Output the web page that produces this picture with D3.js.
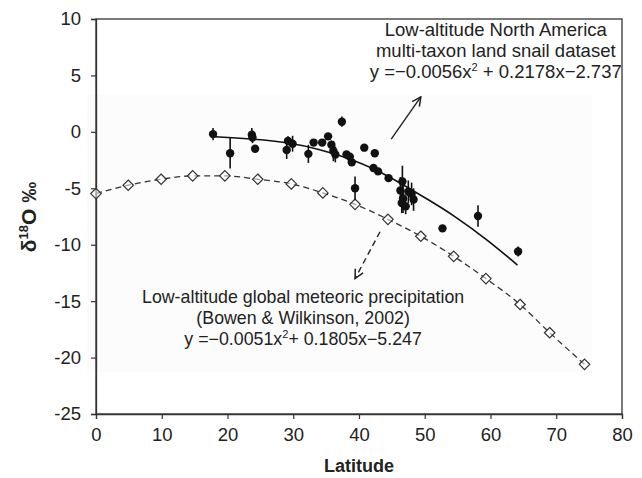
<!DOCTYPE html>
<html>
<head>
<meta charset="utf-8">
<script src="https://cdn.jsdelivr.net/npm/d3@7"></script>
<style>
  body { margin: 0; background: #fff; }
  text { font-family: "Liberation Sans", Arial, sans-serif; fill: #222; }
</style>
</head>
<body>
<div id="chart"></div>
<script>
// low-altitude global meteoric precipitation (open diamonds)
const precipLat = [0, 4.9, 9.9, 14.7, 19.6, 24.6, 29.7, 34.5, 39.4, 44.4, 49.4, 54.4, 59.3, 64.5, 69.0, 74.3];
const precipVal = [-5.47, -4.73, -4.2, -3.9, -3.9, -4.2, -4.61, -5.41, -6.42, -7.75, -9.25, -11.03, -13.0, -15.3, -17.8, -20.6];

// land snail dataset (filled circles + error bars)
const snailLat = [17.8, 20.4, 23.7, 23.8, 24.2, 29.0, 29.2, 29.9, 32.3, 33.1, 34.4, 35.3, 35.8, 36.1, 36.4, 37.4,
  38.1, 38.6, 38.9, 39.4, 40.8, 42.4, 42.2, 42.9, 44.5, 46.6, 46.3, 46.7, 47.5, 48.0, 48.3, 46.5, 47.1, 52.7, 58.1, 64.2];
const snailVal = [-0.2, -1.9, -0.25, -0.5, -1.5, -1.6, -0.8, -1.05, -1.95, -0.95, -0.95, -0.4, -1.15, -1.7, -2.0, 0.9,
  -2.0, -2.2, -2.7, -5.0, -1.4, -1.9, -3.2, -3.5, -4.1, -4.4, -5.2, -5.9, -5.3, -5.5, -6.0, -6.3, -6.6, -8.55, -7.45, -10.6];
const snailErr = [0.55, 1.35, 0.6, 0.5, 0, 0.8, 0.4, 0.7, 0.8, 0, 0, 0, 0.4, 0.9, 0.7, 0.45,
  0, 0, 0, 1.05, 0, 0, 0.3, 0, 0, 1.4, 1.2, 1.3, 1.0, 1.0, 1.0, 0.9, 0.7, 0.3, 0.95, 0.45];

// solid fitted curve
const snailFitLat = [17.8, 23.4, 29.5, 34.0, 38.6, 42.4, 46.2, 50.5, 54.3, 59.4, 64.1];
const snailFitVal = [-0.42, -0.6, -0.95, -1.55, -2.35, -3.3, -4.5, -6.0, -7.35, -9.5, -11.8];

const xTicks = [0, 10, 20, 30, 40, 50, 60, 70, 80];
const yTicks = [10, 5, 0, -5, -10, -15, -20, -25];

const MARGIN = { TOP: 19, BOTTOM: 64, LEFT: 96, RIGHT: 20 };
const WIDTH = 642 - MARGIN.LEFT - MARGIN.RIGHT,
  HEIGHT = 478 - MARGIN.TOP - MARGIN.BOTTOM;

var svg = d3
  .select("#chart")
  .append("svg")
  .attr("width", 642)
  .attr("height", 478);

var defs = svg.append("defs");
defs
  .append("marker")
  .attr("id", "head")
  .attr("viewBox", "0 0 10 10")
  .attr("refX", 9)
  .attr("refY", 5)
  .attr("markerWidth", 11)
  .attr("markerHeight", 11)
  .attr("markerUnits", "userSpaceOnUse")
  .attr("orient", "auto")
  .append("path")
  .attr("d", "M1,1 L9,5 L1,9")
  .attr("fill", "none")
  .attr("stroke", "#222")
  .attr("stroke-width", 1.4);

var g = svg
  .append("g")
  .attr("transform", `translate(${MARGIN.LEFT}, ${MARGIN.TOP})`);

var x = d3.scaleLinear().domain([0, 80]).range([0, WIDTH]);
var y = d3.scaleLinear().domain([-25, 10]).range([HEIGHT, 0]);

// faint inner plot background
g.append("rect")
  .attr("x", -9)
  .attr("y", 76)
  .attr("width", 505)
  .attr("height", 277)
  .attr("fill", "#fcfcfc");

// frame
g.append("rect")
  .attr("width", WIDTH)
  .attr("height", HEIGHT)
  .attr("fill", "none")
  .attr("stroke", "#333")
  .attr("stroke-width", 1.3);

var xAxis = g
  .append("g")
  .attr("transform", `translate(0, ${HEIGHT})`)
  .call(d3.axisBottom(x).tickValues(xTicks).tickSize(5).tickPadding(9).tickFormat((d) => String(d)));

var yAxis = g
  .append("g")
  .call(d3.axisLeft(y).tickValues(yTicks).tickSize(5).tickPadding(10).tickFormat((d) => String(d)));

[xAxis, yAxis].forEach(function (a) {
  a.select(".domain").attr("stroke", "#333").attr("stroke-width", 1.3);
  a.selectAll(".tick line").attr("stroke", "#333").attr("stroke-width", 1.2);
  a.selectAll(".tick text")
    .attr("font-size", 18.5)
    .attr("font-family", "Liberation Sans, Arial, sans-serif")
    .attr("fill", "#222");
});

// axis titles
svg
  .append("text")
  .attr("x", MARGIN.LEFT + WIDTH / 2)
  .attr("y", 472)
  .attr("text-anchor", "middle")
  .attr("font-size", 18)
  .attr("font-weight", "bold")
  .text("Latitude");

var yTitle = svg
  .append("text")
  .attr("transform", "translate(36, 217) rotate(-90)")
  .attr("text-anchor", "middle")
  .attr("font-size", 21)
  .attr("font-weight", "bold");
yTitle.append("tspan").text("δ");
yTitle.append("tspan").attr("dy", -8).attr("font-size", 13).text("18");
yTitle.append("tspan").attr("dy", 8).text("O ‰");

// precipitation dashed curve + diamonds
var precip = precipLat.map(function (d, i) {
  return { lat: d, val: precipVal[i] };
});

var line = d3
  .line()
  .x((d) => x(d.lat))
  .y((d) => y(d.val))
  .curve(d3.curveMonotoneX);

g.append("path")
  .datum(precip)
  .attr("d", line)
  .attr("fill", "none")
  .attr("stroke", "#333")
  .attr("stroke-width", 1.3)
  .attr("stroke-dasharray", "6,4");

g.selectAll("path.diamond")
  .data(precip)
  .enter()
  .append("path")
  .attr("class", "diamond")
  .attr("d", d3.symbol().type(d3.symbolDiamond2).size(70))
  .attr("transform", (d) => `translate(${x(d.lat)}, ${y(d.val)})`)
  .attr("fill", "#fff")
  .attr("fill-opacity", 0.55)
  .attr("stroke", "#333")
  .attr("stroke-width", 1.2);

// snail fit line
var fit = snailFitLat.map(function (d, i) {
  return { lat: d, val: snailFitVal[i] };
});

g.append("path")
  .datum(fit)
  .attr("d", line.curve(d3.curveBasis))
  .attr("fill", "none")
  .attr("stroke", "#111")
  .attr("stroke-width", 1.6);

// snail points with error bars
var snail = snailLat.map(function (d, i) {
  return { lat: d, val: snailVal[i], err: snailErr[i] };
});

g.selectAll("line.err")
  .data(snail.filter((d) => d.err > 0))
  .enter()
  .append("line")
  .attr("class", "err")
  .attr("x1", (d) => x(d.lat))
  .attr("x2", (d) => x(d.lat))
  .attr("y1", (d) => y(d.val + d.err))
  .attr("y2", (d) => y(d.val - d.err))
  .attr("stroke", "#111")
  .attr("stroke-width", 1.6);

g.selectAll("circle.snail")
  .data(snail)
  .enter()
  .append("circle")
  .attr("class", "snail")
  .attr("cx", (d) => x(d.lat))
  .attr("cy", (d) => y(d.val))
  .attr("r", 4.2)
  .attr("fill", "#111");

// annotation arrows
g.append("line")
  .attr("x1", x(44.9))
  .attr("y1", y(-0.65))
  .attr("x2", x(49.4))
  .attr("y2", y(3.1))
  .attr("stroke", "#222")
  .attr("stroke-width", 1.4)
  .attr("marker-end", "url(#head)");

g.append("line")
  .attr("x1", x(43.2))
  .attr("y1", y(-8.85))
  .attr("x2", x(39.4))
  .attr("y2", y(-13.0))
  .attr("stroke", "#222")
  .attr("stroke-width", 1.4)
  .attr("stroke-dasharray", "6,4")
  .attr("marker-end", "url(#head)");

// annotation texts
function label(cx, size, lines) {
  lines.forEach(function (l) {
    var t = g
      .append("text")
      .attr("x", x(cx))
      .attr("y", y(l.v))
      .attr("text-anchor", "middle")
      .attr("font-size", size);
    if (l.sup) {
      t.append("tspan").text(l.a);
      t.append("tspan").attr("dy", -7).attr("font-size", 11).text("2");
      t.append("tspan").attr("dy", 7).text(l.b);
    } else {
      t.text(l.a);
    }
  });
}

label(60.8, 18.5, [
  { v: 8.45, a: "Low-altitude North America" },
  { v: 6.6, a: "multi-taxon land snail dataset" },
  { v: 4.75, a: "y =\u22120.0056x", sup: true, b: " + 0.2178x\u22122.737" },
]);

label(31.5, 17.8, [
  { v: -15.2, a: "Low-altitude global meteoric precipitation" },
  { v: -17.05, a: "(Bowen & Wilkinson, 2002)" },
  { v: -18.9, a: "y =\u22120.0051x", sup: true, b: "+ 0.1805x\u22125.247" },
]);
</script>
</body>
</html>
